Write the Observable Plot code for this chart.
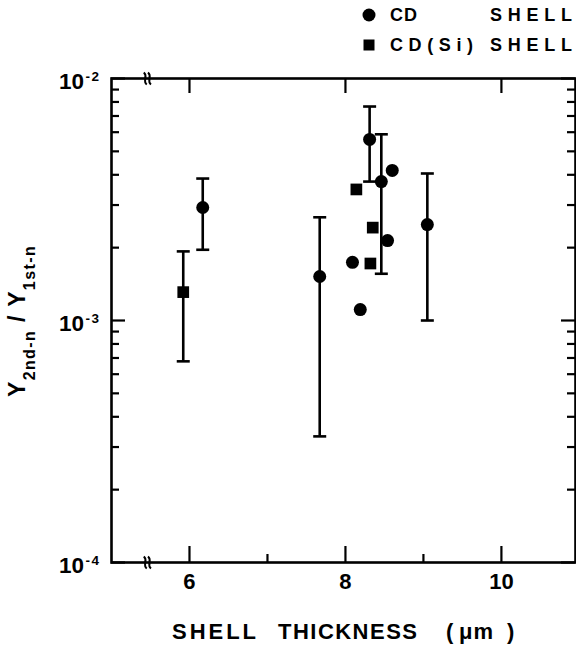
<!DOCTYPE html>
<html><head><meta charset="utf-8">
<script src="https://cdn.jsdelivr.net/npm/d3@7"></script>
<script src="https://cdn.jsdelivr.net/npm/@observablehq/plot@0.6"></script>
<style>
body{margin:0;background:#fff;}
svg{display:block;}
</style>
</head><body><div id="chart"></div>
<script>
// CD shell (circles)
const cdX  = [6.17, 7.67, 8.31, 8.46, 8.60, 8.54, 8.09, 8.19, 9.05];
const cdY  = [2.93e-3, 1.52e-3, 5.6e-3, 3.75e-3, 4.17e-3, 2.14e-3, 1.74e-3, 1.11e-3, 2.49e-3];
const cdLo = [1.96e-3, 3.32e-4, 3.75e-3, 1.56e-3, null, null, null, null, 1.0e-3];
const cdHi = [3.86e-3, 2.67e-3, 7.66e-3, 5.88e-3, null, null, null, null, 4.05e-3];
// CD(Si) shell (squares)
const siX  = [5.92, 8.14, 8.35, 8.32];
const siY  = [1.31e-3, 3.48e-3, 2.42e-3, 1.72e-3];
const siLo = [6.78e-4, null, null, null];
const siHi = [1.93e-3, null, null, null];
// ticks
const xMajor = [6, 8, 10];
const xMinor = [7, 9];
const yMajor = [1e-4, 1e-3, 1e-2];
const yMajorLabels = ["10^-4", "10^-3", "10^-2"];
const yMinor = [2,3,4,5,6,7,8,9].flatMap(m => [m * 1e-4, m * 1e-3]);
const xBreak = [5.46];
const legendLabels = ["CD", "CD(Si)"];
const legendShell = "SHELL";

const W = 576, H = 649;
const mL = 111, mR = 1, mT = 78, mB = 87;
const pw = W - mL - mR, ph = H - mT - mB;
const FONT = "'Liberation Sans', Arial, Helvetica, sans-serif";

const cd = cdX.map((x, i) => ({x, y: cdY[i], lo: cdLo[i], hi: cdHi[i]}));
const si = siX.map((x, i) => ({x, y: siY[i], lo: siLo[i], hi: siHi[i]}));
const withErr = [...cd, ...si].filter(d => d.lo != null);
const caps = withErr.flatMap(d => [{x: d.x, y: d.lo}, {x: d.x, y: d.hi}]);

const capSymbol = {
  draw(context, size) {
    const r = Math.sqrt(size / Math.PI);
    context.moveTo(-r, 0);
    context.lineTo(r, 0);
  }
};
const breakSymbol = {
  draw(context, size) {
    const r = Math.sqrt(size / Math.PI);
    for (const ox of [-0.35 * r, 0.35 * r]) {
      context.moveTo(ox - 0.25 * r, -r);
      context.bezierCurveTo(ox + 0.55 * r, -0.4 * r, ox - 0.55 * r, 0.4 * r, ox + 0.25 * r, r);
    }
  }
};

const plot = Plot.plot({
  width: W, height: H,
  marginLeft: mL, marginRight: mR, marginTop: mT, marginBottom: mB,
  style: {fontFamily: FONT, background: "#fff", color: "#000"},
  x: {domain: [5, 10.95], axis: null},
  y: {type: "log", domain: [1e-4, 1e-2], axis: null},
  marks: [
    // left axis ticks (inward)
    Plot.ruleY(yMinor, {y: d => d, insetRight: pw - 8, stroke: "#000", strokeWidth: 2.2}),
    Plot.ruleY(yMajor, {y: d => d, insetRight: pw - 14, stroke: "#000", strokeWidth: 2.2}),
    // right axis ticks (inward)
    Plot.ruleY(yMinor, {y: d => d, insetLeft: pw - 8, stroke: "#000", strokeWidth: 2.2}),
    Plot.ruleY(yMajor, {y: d => d, insetLeft: pw - 14, stroke: "#000", strokeWidth: 2.2}),
    // bottom ticks (inward)
    Plot.ruleX(xMajor, {x: d => d, insetTop: ph - 16, stroke: "#000", strokeWidth: 2.2}),
    Plot.ruleX(xMinor, {x: d => d, insetTop: ph - 8, stroke: "#000", strokeWidth: 2.2}),
    // top ticks (inward)
    Plot.ruleX(xMajor, {x: d => d, insetBottom: ph - 15, stroke: "#000", strokeWidth: 2.2}),
    Plot.frame({stroke: "#000", strokeWidth: 2.6}),
    // axis break marks
    Plot.dot(xBreak, {x: d => d, frameAnchor: "top", symbol: breakSymbol, r: 6, stroke: "#000", strokeWidth: 2, fill: "none"}),
    Plot.dot(xBreak, {x: d => d, frameAnchor: "bottom", symbol: breakSymbol, r: 6, stroke: "#000", strokeWidth: 2, fill: "none"}),
    // tick labels
    Plot.text(yMajor, {y: d => d, text: (d, i) => yMajorLabels[i], frameAnchor: "left", textAnchor: "end", dx: -11, dy: 3, fontSize: 22.5, fontWeight: "bold", fill: "#000", className: "ylab"}),
    Plot.text(xMajor, {x: d => d, text: d => String(d), frameAnchor: "bottom", dy: 26, fontSize: 22, fontWeight: "bold", fill: "#000"}),
    // error bars
    Plot.ruleX(withErr, {x: "x", y1: "lo", y2: "hi", stroke: "#000", strokeWidth: 2.6}),
    Plot.dot(caps, {x: "x", y: "y", symbol: capSymbol, r: 6.5, stroke: "#000", strokeWidth: 2.6, fill: "none"}),
    // points
    Plot.dot(cd, {x: "x", y: "y", r: 6.5, fill: "#000", stroke: "none"}),
    Plot.dot(si, {x: "x", y: "y", r: 6.6, symbol: "square", fill: "#000", stroke: "none"})
  ]
});

document.getElementById("chart").appendChild(plot);
const svg = d3.select(plot);

// superscripts on y tick labels
svg.selectAll("g.ylab text").each(function() {
  const t = d3.select(this);
  const [b, e] = t.text().split("^");
  t.text(b);
  t.append("tspan").attr("dx", 1.5).attr("dy", -7.5).attr("font-size", 13.5).attr("letter-spacing", 1.5).text(e);
});

const g = svg.append("g").attr("font-family", FONT).attr("fill", "#000")
  .attr("text-anchor", "start").attr("font-weight", "bold");

// x-axis title
const xl = [["SHELL", 172, 84], ["THICKNESS", 278, 139], ["(", 446, 7], ["μm", 459, 34], [")", 507, 7]];
xl.forEach(([s, x, w]) => g.append("text").attr("x", x).attr("y", 639).attr("font-size", 22)
  .attr("textLength", w).attr("lengthAdjust", "spacing").text(s));

// y-axis title with subscripts
const yl = g.append("text").attr("transform", "translate(25,321) rotate(-90)")
  .attr("text-anchor", "middle").attr("font-size", 23).attr("letter-spacing", 1.4).style("white-space", "pre");
yl.append("tspan").text("Y");
yl.append("tspan").attr("font-size", 16).attr("dy", 10).text("2nd-n");
yl.append("tspan").attr("dy", -10).text(" / Y");
yl.append("tspan").attr("font-size", 16).attr("dy", 10).text("1st-n");

// legend
g.append("circle").attr("cx", 369).attr("cy", 15).attr("r", 6.5);
g.append("rect").attr("x", 363.5).attr("y", 39.5).attr("width", 11).attr("height", 11);
const lw = [27, 83];
legendLabels.forEach((s, i) => {
  g.append("text").attr("x", 390).attr("y", 21 + 30 * i).attr("font-size", 18)
    .attr("textLength", lw[i]).attr("lengthAdjust", "spacing").text(s);
  g.append("text").attr("x", 490).attr("y", 21 + 30 * i).attr("font-size", 18)
    .attr("textLength", 82).attr("lengthAdjust", "spacing").text(legendShell);
});
</script>
</body></html>
